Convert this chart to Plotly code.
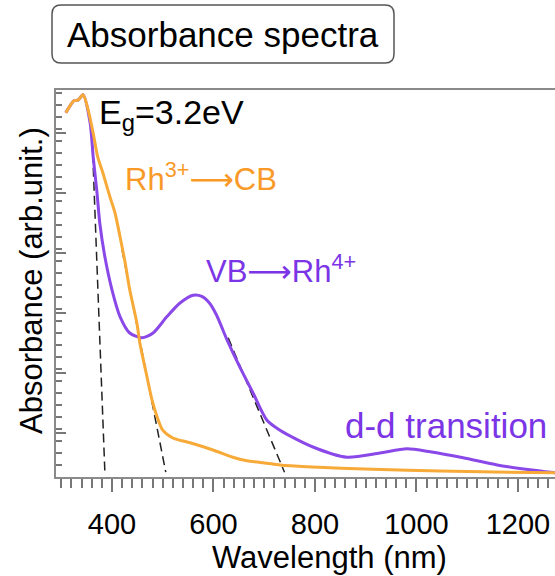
import plotly.graph_objects as go

# Absorbance spectra (arbitrary units) vs wavelength (nm)
wl_rh3 = [309, 317, 325, 333, 343, 353, 363, 372, 382, 396, 406, 416, 426, 435,
          449, 455, 469, 479, 489, 500, 520, 554, 599, 638, 666, 705, 731, 784,
          914, 1046, 1273, 1300]
abs_rh3 = [6.07, 6.18, 6.27, 6.28, 6.37, 6.12, 5.73, 5.33, 5.07, 4.67, 4.40, 4.00,
           3.57, 3.12, 2.57, 2.23, 1.67, 1.28, 1.00, 0.78, 0.65, 0.57, 0.45, 0.33,
           0.27, 0.23, 0.20, 0.17, 0.13, 0.10, 0.07, 0.07]

wl_rh4 = [309, 317, 325, 333, 343, 357, 363, 370, 376, 386, 400, 416, 435, 459,
          481, 508, 534, 560, 577, 592, 606, 627, 652, 678, 705, 731, 796, 863, 928,
          981, 1027, 1092, 1159, 1224, 1273, 1300]
abs_rh4 = [6.07, 6.18, 6.27, 6.28, 6.37, 5.90, 5.33, 4.78, 4.23, 3.67, 3.12, 2.67,
           2.40, 2.32, 2.40, 2.67, 2.90, 3.03, 3.01, 2.90, 2.70, 2.28, 1.83, 1.40,
           0.95, 0.78, 0.50, 0.33, 0.40, 0.47, 0.42, 0.32, 0.20, 0.12, 0.07, 0.06]

# Tangent extrapolations of the absorption edges
edge_bandgap = ([361, 386], [5.62, 0.08])
edge_rh3 = ([420, 506], [3.78, 0.08])
edge_rh4 = ([629, 740], [2.32, 0.08])

x_ticks = [400, 600, 800, 1000, 1200]

ORANGE = "#F7AA38"
ORANGE_TXT = "#F99A28"
PURPLE = "#8B48E8"
PURPLE_TXT = "#7B35E6"
FONT = "Liberation Sans, Arial, Helvetica, sans-serif"
ARROW = '<span style="font-family:DejaVu Sans">⟶</span>'

W, H = 555, 576
ML, MT, MB = 56, 90, 99
PW, PH = W - ML, H - MT - MB


def px(xp):
    return (xp - ML) / PW


def py(yp):
    return (H - MB - yp) / PH


fig = go.Figure()

for xs, ys in (edge_bandgap, edge_rh3, edge_rh4):
    fig.add_trace(go.Scatter(x=xs, y=ys, mode="lines",
                             line=dict(color="#222222", width=1.5, dash="9px,5px"),
                             hoverinfo="skip"))

fig.add_trace(go.Scatter(x=wl_rh4, y=abs_rh4, mode="lines",
                         line=dict(color=PURPLE, width=3, shape="spline", smoothing=0.7)))
fig.add_trace(go.Scatter(x=wl_rh3, y=abs_rh3, mode="lines",
                         line=dict(color=ORANGE, width=3, shape="spline", smoothing=0.7)))

annotations = [
    dict(x=370, y=6.05, text="E<sub>g</sub>=3.2eV", font=dict(size=34, color="black")),
    dict(x=421, y=5.0, text=f"Rh<sup>3+</sup>{ARROW}CB", font=dict(size=31, color=ORANGE_TXT)),
    dict(x=582, y=3.47, text=f"VB{ARROW}Rh<sup>4+</sup>", font=dict(size=31, color=PURPLE_TXT)),
    dict(x=856, y=0.86, text="d-d transition", font=dict(size=35, color=PURPLE_TXT)),
]
for a in annotations:
    a.update(xref="x", yref="y", xanchor="left", yanchor="middle", showarrow=False)

annotations += [
    dict(xref="paper", yref="paper", x=px(223), y=py(34), text="Absorbance spectra",
         font=dict(size=35, color="black"), showarrow=False,
         xanchor="center", yanchor="middle"),
    dict(xref="paper", yref="paper", x=px(329), y=py(557), text="Wavelength (nm)",
         font=dict(size=31, color="black"), showarrow=False,
         xanchor="center", yanchor="middle"),
    dict(xref="paper", yref="paper", x=px(31), y=py(281), text="Absorbance (arb.unit.)",
         font=dict(size=31, color="black"), showarrow=False, textangle=-90,
         xanchor="center", yanchor="middle"),
]

# rounded title frame
x0, x1, y0, y1 = px(52), px(394), py(63), py(5)
rx, ry = 9 / PW, 9 / PH
path = (f"M {x0+rx},{y0} L {x1-rx},{y0} Q {x1},{y0} {x1},{y0+ry} "
        f"L {x1},{y1-ry} Q {x1},{y1} {x1-rx},{y1} "
        f"L {x0+rx},{y1} Q {x0},{y1} {x0},{y1-ry} "
        f"L {x0},{y0+ry} Q {x0},{y0} {x0+rx},{y0} Z")

fig.update_layout(
    width=W, height=H,
    margin=dict(l=ML, r=0, t=MT, b=MB),
    paper_bgcolor="white", plot_bgcolor="white",
    showlegend=False,
    font=dict(family=FONT, color="black"),
    annotations=annotations,
    shapes=[dict(type="path", path=path, xref="paper", yref="paper",
                 line=dict(color="#555555", width=1.5), fillcolor="rgba(0,0,0,0)")],
    xaxis=dict(range=[289.7, 1273], showgrid=False, zeroline=False,
               showline=True, linecolor="#8a8a8a", linewidth=2, mirror=True,
               tickmode="array", tickvals=x_ticks, ticktext=[str(v) for v in x_ticks],
               ticks="outside", ticklen=13, tickwidth=1.5, tickcolor="#777777",
               tickfont=dict(size=29, color="black"), ticklabelstandoff=7,
               minor=dict(dtick=20, tick0=0, ticks="outside", ticklen=9,
                          tickwidth=1.5, tickcolor="#777777")),
    yaxis=dict(range=[0, 6.45], showgrid=False, zeroline=False,
               showline=True, linecolor="#8a8a8a", linewidth=2, mirror=False,
               showticklabels=False,
               tick0=0.733, dtick=1, ticks="inside", ticklen=10, tickwidth=1.5,
               tickcolor="#777777",
               minor=dict(dtick=0.2, ticks="inside", ticklen=6, tickwidth=1.5,
                          tickcolor="#777777")),
)

fig.write_html("out.html")
